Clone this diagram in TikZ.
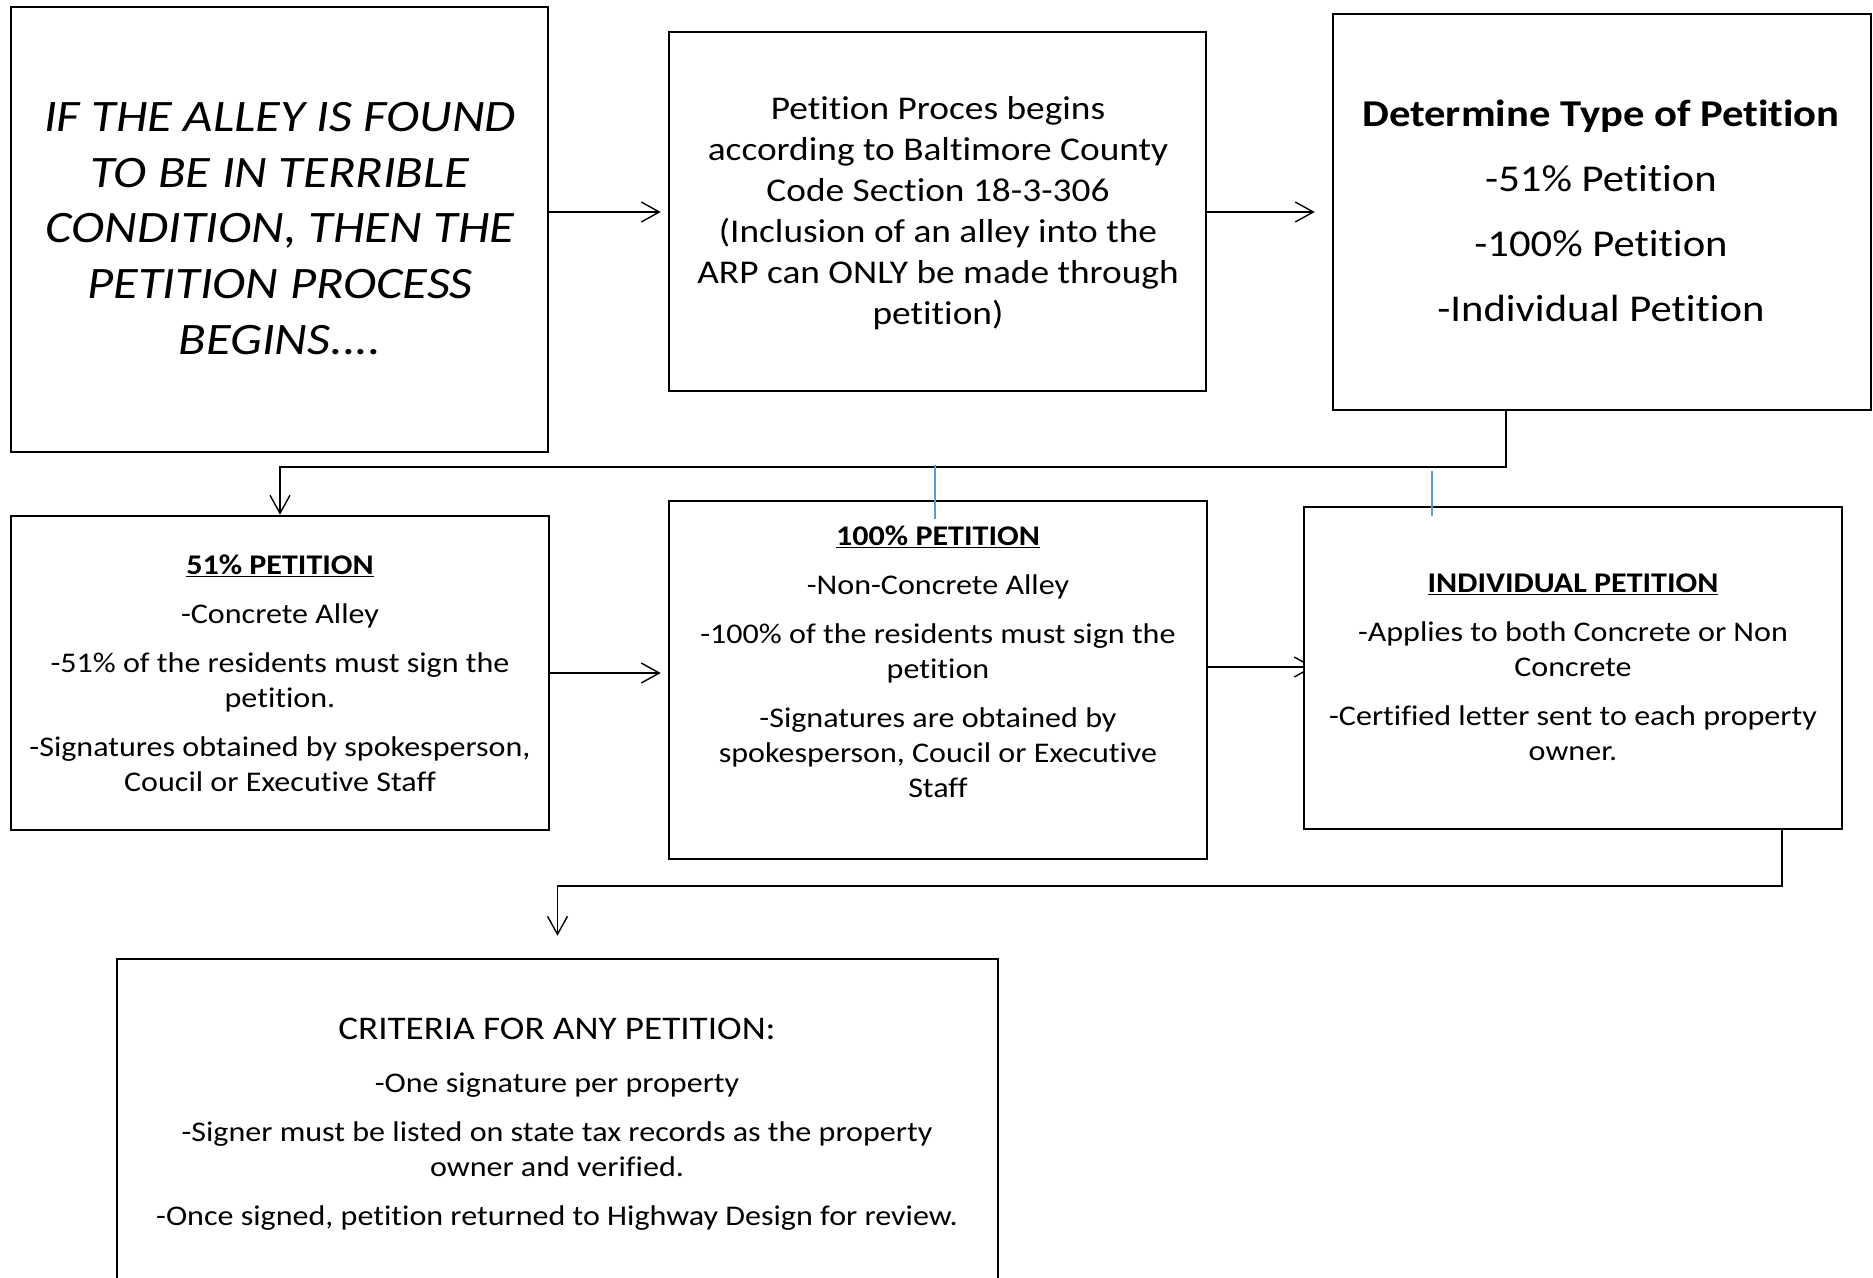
\documentclass[tikz,border=0pt]{standalone}
\usepackage{fontspec}
\setmainfont[FakeStretch=1.125,Ligatures={NoCommon}]{Carlito}
\usetikzlibrary{arrows.meta,backgrounds}
\definecolor{tickblue}{RGB}{91,155,213}
\begin{document}
\begin{tikzpicture}[x=1pt,y=-1pt,
  box/.style={draw, line width=2.6pt, fill=white, inner sep=0pt, rectangle},
  txt/.style={align=center, inner sep=0pt},
  link/.style={line width=1.4pt, -{Straight Barb[length=18pt,width=20pt,line width=1.4pt]}},
  tick/.style={draw=tickblue, line width=1.2pt}]
\useasboundingbox (0,0) rectangle (1873,1277);

% boxes
\node[box, minimum width=537pt, minimum height=445pt] (start) at (279.5,229.5) {};
\node[box, minimum width=537pt, minimum height=359pt] (code) at (937.5,211.5) {};
\node[box, minimum width=538pt, minimum height=396pt] (type) at (1602,212) {};
\node[box, minimum width=538pt, minimum height=314pt] (p51) at (280,673) {};
\node[box, minimum width=538pt, minimum height=358pt] (p100) at (938,680) {};
\node[box, minimum width=538pt, minimum height=322pt] (pind) at (1573,668) {};
\node[box, minimum width=881pt, minimum height=341pt] (crit) at (557.5,1129.5) {};

% texts
\node[txt, font=\fontsize{45}{55.8}\selectfont\itshape] (startT) at (280,228.5)
  {IF THE ALLEY IS FOUND\\TO BE IN TERRIBLE\\CONDITION, THEN THE\\PETITION PROCESS\\BEGINS....};
\node[txt, font=\fontsize{33.2}{41}\selectfont] (codeT) at (938,213.5)
  {Petition Proces begins\\according to Baltimore County\\Code Section 18-3-306\\(Inclusion of an alley into the\\ARP can ONLY be made through\\petition)};
\node[txt, font=\fontsize{37.9}{65}\selectfont] (typeT) at (1601,211)
  {\textbf{Determine Type of Petition}\\-51\% Petition\\-100\% Petition\\-Individual Petition};
\node[txt, font=\fontsize{28.5}{35}\selectfont] (p51T) at (280,673)
  {\underline{\textbf{51\% PETITION}}\\[14pt]-Concrete Alley\\[14pt]-51\% of the residents must sign the\\petition.\\[14pt]-Signatures obtained by spokesperson,\\Coucil or Executive Staff};
\node[txt, font=\fontsize{28.5}{35}\selectfont] (p100T) at (938,662)
  {\underline{\textbf{100\% PETITION}}\\[14pt]-Non-Concrete Alley\\[14pt]-100\% of the residents must sign the\\petition\\[14pt]-Signatures are obtained by\\spokesperson, Coucil or Executive\\Staff};
\node[txt, font=\fontsize{28.5}{35}\selectfont] (pindT) at (1573,667)
  {\underline{\textbf{INDIVIDUAL PETITION}}\\[14pt]-Applies to both Concrete or Non\\Concrete\\[14pt]-Certified letter sent to each property\\owner.};
\node[txt, font=\fontsize{28.5}{35}\selectfont] (critT) at (557,1124)
  {{\fontsize{33}{35}\selectfont CRITERIA FOR ANY PETITION:}\\[18pt]-One signature per property\\[14pt]-Signer must be listed on state tax records as the property\\owner and verified.\\[14pt]-Once signed, petition returned to Highway Design for review.};

% connectors, kept behind the boxes
\coordinate (r1) at (0,212);
\coordinate (r2) at (0,673);
\coordinate (r3) at (0,667);
\coordinate (j1) at (1506,467);
\coordinate (j2) at (1782,886);
\coordinate (t1a) at (935,465);
\coordinate (t1b) at (935,519);
\coordinate (t2a) at (1432,471);
\coordinate (t2b) at (1432,516);
\begin{pgfonlayer}{background}
\fill[white] (0,0) rectangle (1873,1277);
\draw[link, shorten >=7pt] (start.east |- r1) -- (code.west |- r1);
\draw[link, shorten >=17pt] (code.east |- r1) -- (type.west |- r1);
\draw[link, shorten >=7pt] (p51.east |- r2) -- (p100.west |- r2);
\draw[link, shorten >=-11pt] (p100.east |- r3) -- (pind.west |- r3);
\draw[link] (j1 |- type.south) -- (j1) -- (j1 -| p51.north) -- (p51.north);
\draw[link, shorten >=22pt] (j2 |- pind.south) -- (j2) -- (j2 -| crit.north) -- (crit.north);
\end{pgfonlayer}
\draw[tick] (t1a) -- (t1b);
\draw[tick] (t2a) -- (t2b);
\end{tikzpicture}
\end{document}
